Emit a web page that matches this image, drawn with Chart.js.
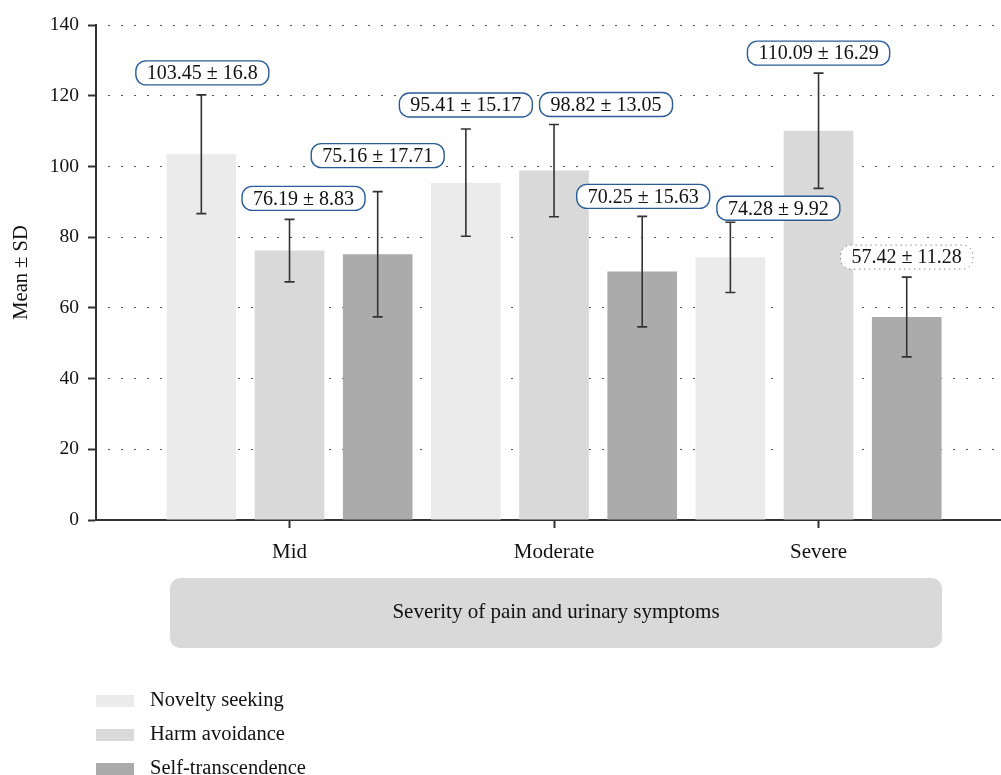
<!DOCTYPE html>
<html>
<head>
<meta charset="utf-8">
<script src="https://cdn.jsdelivr.net/npm/chart.js@4.4.1/dist/chart.umd.min.js"></script>
<style>
  html, body { margin: 0; padding: 0; background: #fff; }
  #wrap { width: 1001px; height: 775px; }
</style>
</head>
<body>
<div id="wrap"><canvas id="chart"></canvas></div>
<script>
const categories = ["Mid", "Moderate", "Severe"];
const seriesNames = ["Novelty seeking", "Harm avoidance", "Self-transcendence"];
const noveltyMean = [103.45, 95.41, 74.28];
const noveltySD = [16.8, 15.17, 9.92];
const harmMean = [76.19, 98.82, 110.09];
const harmSD = [8.83, 13.05, 16.29];
const selfMean = [75.16, 70.25, 57.42];
const selfSD = [17.71, 15.63, 11.28];
const yTicks = [0, 20, 40, 60, 80, 100, 120, 140];

const FONT = "'Liberation Serif', 'Times New Roman', serif";
const colors = ["#ebebeb", "#d9d9d9", "#ababab"];
const means = [noveltyMean, harmMean, selfMean];
const sds = [noveltySD, harmSD, selfSD];

// label box offsets (px) from bar centre / error bar top
const labelShift = [
  [[1, -22], [0, -24], [48, -14]],
  [[14, -21], [52, -20], [0, -20]],
  [[0, -36], [1, -20], [0, -20]]
];

const datasets = seriesNames.map((name, i) => ({
  label: name,
  data: means[i].map((v, j) => ({ x: j, y: v })),
  backgroundColor: colors[i],
  categoryPercentage: 1.0,
  barPercentage: 0.79
}));

function box(ctx, x, y, w, h, r) {
  ctx.beginPath();
  ctx.roundRect(x, y, w, h, r);
}

const extras = {
  id: "extras",
  afterDatasetsDraw(chart) {
    const ctx = chart.ctx;
    const ys = chart.scales.y;
    ctx.save();
    // error bars
    chart.data.datasets.forEach((ds, i) => {
      const meta = chart.getDatasetMeta(i);
      meta.data.forEach((bar, j) => {
        const m = means[i][j], s = sds[i][j];
        const top = ys.getPixelForValue(m + s);
        const bot = ys.getPixelForValue(m - s);
        ctx.strokeStyle = "#333";
        ctx.lineWidth = 1.6;
        ctx.beginPath();
        ctx.moveTo(bar.x, top); ctx.lineTo(bar.x, bot);
        ctx.moveTo(bar.x - 5, top); ctx.lineTo(bar.x + 5, top);
        ctx.moveTo(bar.x - 5, bot); ctx.lineTo(bar.x + 5, bot);
        ctx.stroke();
      });
    });
    // value labels
    ctx.font = "20px " + FONT;
    ctx.textAlign = "center";
    ctx.textBaseline = "middle";
    chart.data.datasets.forEach((ds, i) => {
      const meta = chart.getDatasetMeta(i);
      meta.data.forEach((bar, j) => {
        const m = means[i][j], s = sds[i][j];
        const txt = m + " \u00b1 " + s;
        const cx = bar.x + labelShift[i][j][0];
        const cy = ys.getPixelForValue(m + s) + labelShift[i][j][1];
        const w = ctx.measureText(txt).width + 22;
        const h = 24;
        const dotted = (i === 2 && j === 2);
        box(ctx, cx - w / 2, cy - h / 2, w, h, 10);
        ctx.fillStyle = "#fff";
        ctx.fill();
        if (dotted) {
          ctx.setLineDash([1, 4]);
          ctx.strokeStyle = "#555";
          ctx.lineWidth = 1;
        } else {
          ctx.setLineDash([]);
          ctx.strokeStyle = "#2c5c97";
          ctx.lineWidth = 1.4;
        }
        ctx.stroke();
        ctx.setLineDash([]);
        ctx.fillStyle = "#111";
        ctx.fillText(txt, cx, cy + 1);
      });
    });
    ctx.restore();
  },
  afterDraw(chart) {
    const ctx = chart.ctx;
    ctx.save();
    // x axis title box
    box(ctx, 170, 578, 772, 70, 10);
    ctx.fillStyle = "#d9d9d9";
    ctx.fill();
    ctx.font = "21px " + FONT;
    ctx.fillStyle = "#111";
    ctx.textAlign = "center";
    ctx.textBaseline = "middle";
    ctx.fillText("Severity of pain and urinary symptoms", 556, 612);
    // legend
    ctx.font = "20.5px " + FONT;
    ctx.textAlign = "left";
    chart.data.datasets.forEach((ds, i) => {
      const y = 701 + i * 34;
      ctx.fillStyle = ds.backgroundColor;
      ctx.fillRect(96, y - 6, 38, 12);
      ctx.fillStyle = "#111";
      ctx.fillText(ds.label, 150, y);
    });
    ctx.restore();
  }
};

new Chart(document.getElementById("chart"), {
  type: "bar",
  data: { datasets: datasets },
  options: {
    animation: false,
    responsive: true,
    maintainAspectRatio: false,
    layout: { padding: { top: 25, right: 1, left: 0, bottom: 0 } },
    plugins: {
      legend: { display: false },
      tooltip: { enabled: false }
    },
    scales: {
      x: {
        type: "linear",
        offset: false,
        min: -0.7316,
        max: 2.686,
        afterBuildTicks: (s) => { s.ticks = categories.map((c, i) => ({ value: i })); },
        afterFit: (s) => { s.height = 255; },
        ticks: {
          callback: (v) => categories[v],
          font: { family: FONT, size: 21 },
          color: "#111",
          padding: 12,
          maxRotation: 0,
          autoSkip: false
        },
        grid: {
          offset: false,
          drawOnChartArea: false,
          drawTicks: true,
          tickLength: 8,
          tickColor: "#333",
          tickWidth: 2
        },
        border: { color: "#333", width: 2 }
      },
      y: {
        min: 0,
        max: 140,
        afterBuildTicks: (s) => { s.ticks = yTicks.map(v => ({ value: v })); },
        afterFit: (s) => { s.width = 96; },
        ticks: {
          font: { family: FONT, size: 19.5 },
          color: "#111",
          padding: 9
        },
        grid: {
          color: "#555",
          lineWidth: 1,
          drawTicks: true,
          tickLength: 8,
          tickColor: "#333",
          tickWidth: 2
        },
        border: { color: "#333", width: 2, dash: [2, 11], dashOffset: 2 },
        title: {
          display: true,
          text: "Mean \u00b1 SD",
          font: { family: FONT, size: 20.5 },
          color: "#111",
          padding: { top: 9, bottom: 0 }
        }
      }
    }
  },
  plugins: [extras]
});
</script>
</body>
</html>
